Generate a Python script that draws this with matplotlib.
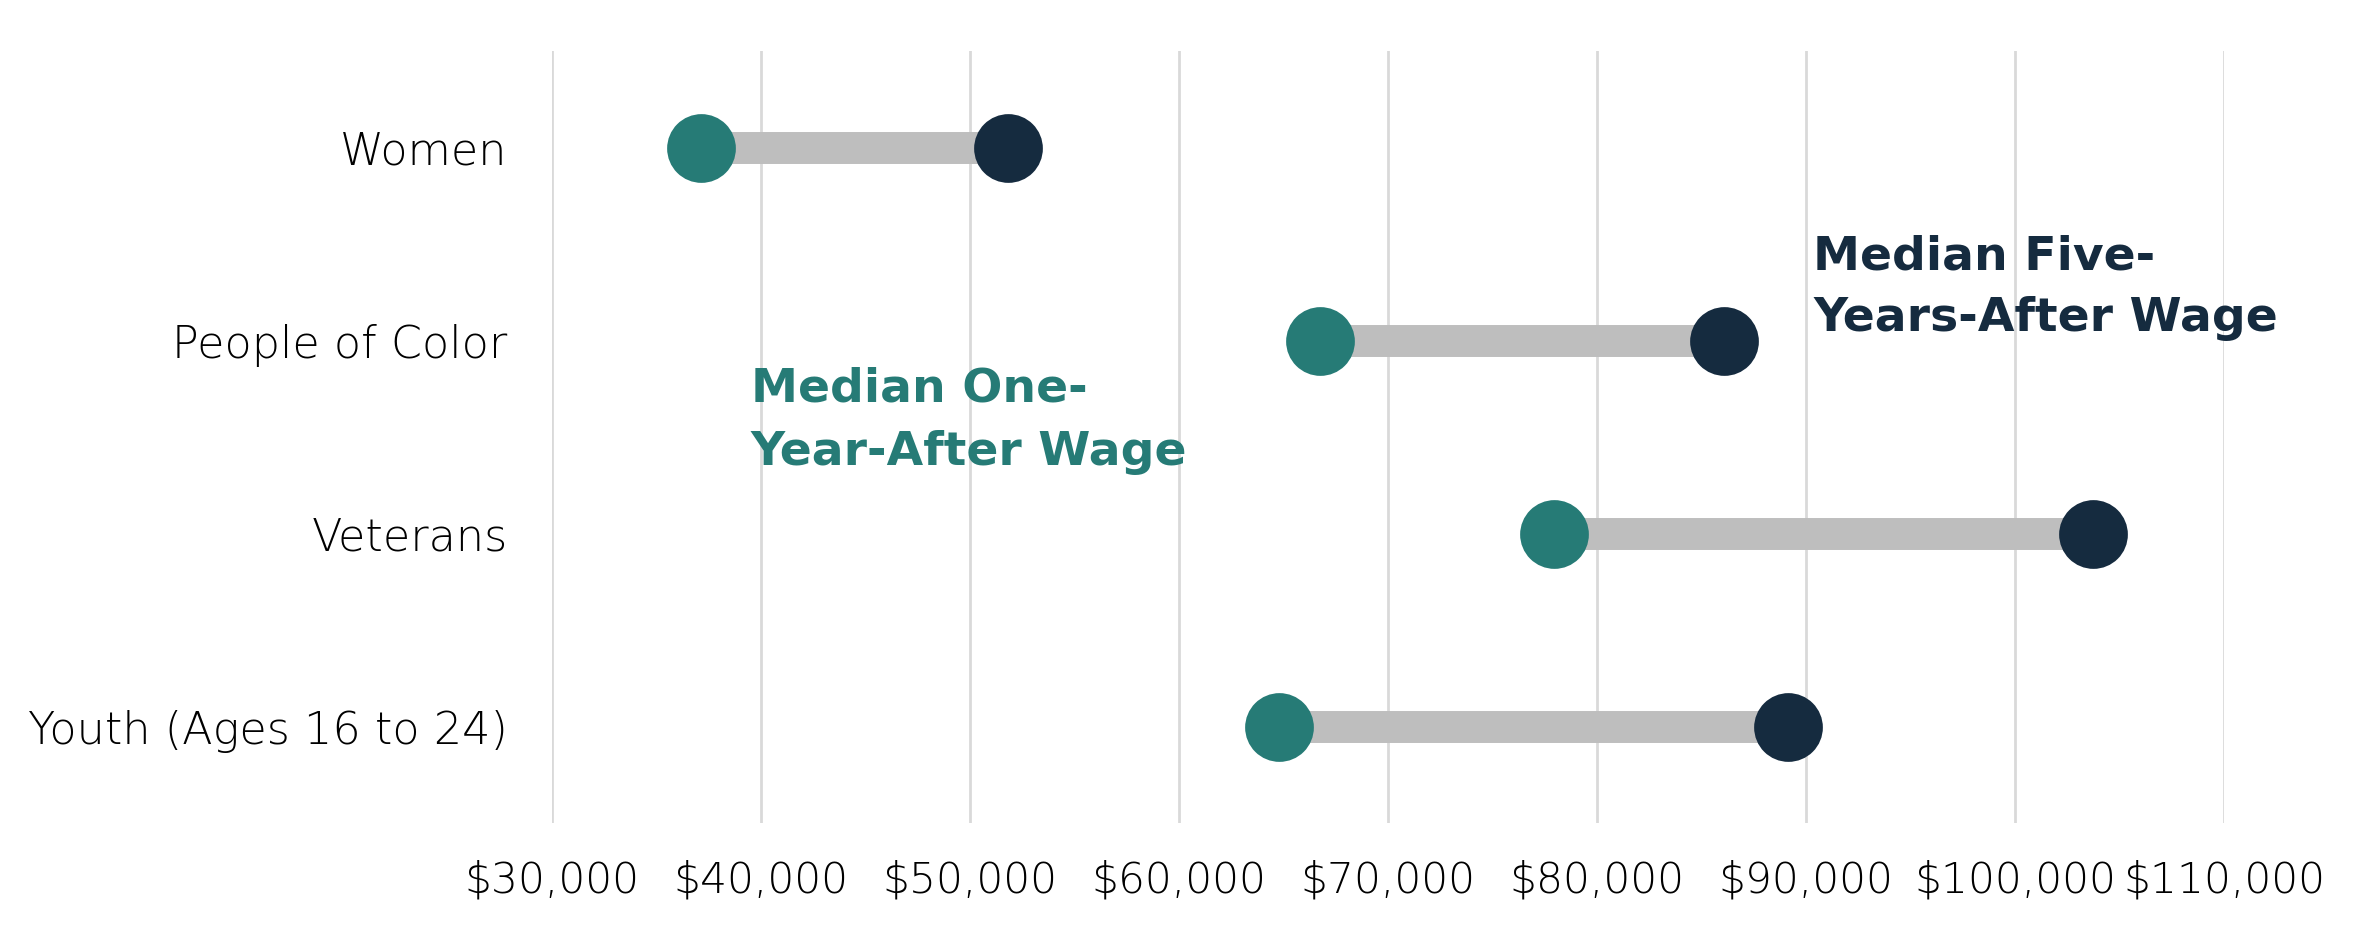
import matplotlib
matplotlib.use("Agg")
import matplotlib.pyplot as plt

# wage data
groups = ["Women", "People of Color", "Veterans", "Youth (Ages 16 to 24)"]
wage_one_year = [37130, 66730, 77920, 64800]
wage_five_year = [51820, 86080, 103700, 89110]
xticks = [30000, 40000, 50000, 60000, 70000, 80000, 90000, 100000, 110000]

teal = "#267B76"
navy = "#152B3F"

plt.rcParams['font.family'] = ['DejaVu Sans']

fig = plt.figure(figsize=(23.72, 9.39), dpi=100)
ax = fig.add_axes([0.2327, 0.1235, 0.705, 0.822])

ypos = list(range(len(groups)))
ax.hlines(ypos, wage_one_year, wage_five_year, color="#BEBEBE", lw=23, zorder=2)
ax.scatter(wage_one_year, ypos, s=2450, color=teal, zorder=3, clip_on=False, linewidths=0)
ax.scatter(wage_five_year, ypos, s=2450, color=navy, zorder=3, clip_on=False, linewidths=0)

ax.set_xlim(30000, 110000)
ax.set_ylim(3.5, -0.5)
ax.set_xticks(xticks)
ax.set_xticklabels([f"${v:,}" for v in xticks])
ax.set_yticks(ypos)
ax.set_yticklabels(groups)
ax.tick_params(axis="both", length=0, colors="black")
ax.tick_params(axis="x", pad=26, labelsize=30.5)
ax.tick_params(axis="y", pad=32, labelsize=32)
for lbl in ax.get_xticklabels() + ax.get_yticklabels():
    lbl.set_fontweight("light")

ax.grid(axis="x", color="#D9D9D9", lw=2)
ax.set_axisbelow(True)
for sp in ax.spines.values():
    sp.set_visible(False)

# series labels, one line at a time
ax.text(39500, 1.316, "Median One-", color=teal, fontsize=34,
        fontweight="bold", va="baseline", ha="left")
ax.text(39500, 1.642, "Year-After Wage", color=teal, fontsize=34,
        fontweight="bold", va="baseline", ha="left")
ax.text(90330, 0.632, "Median Five-", color=navy, fontsize=34,
        fontweight="bold", va="baseline", ha="left")
ax.text(90330, 0.948, "Years-After Wage", color=navy, fontsize=34,
        fontweight="bold", va="baseline", ha="left")

fig.savefig("out.png", dpi=100)
